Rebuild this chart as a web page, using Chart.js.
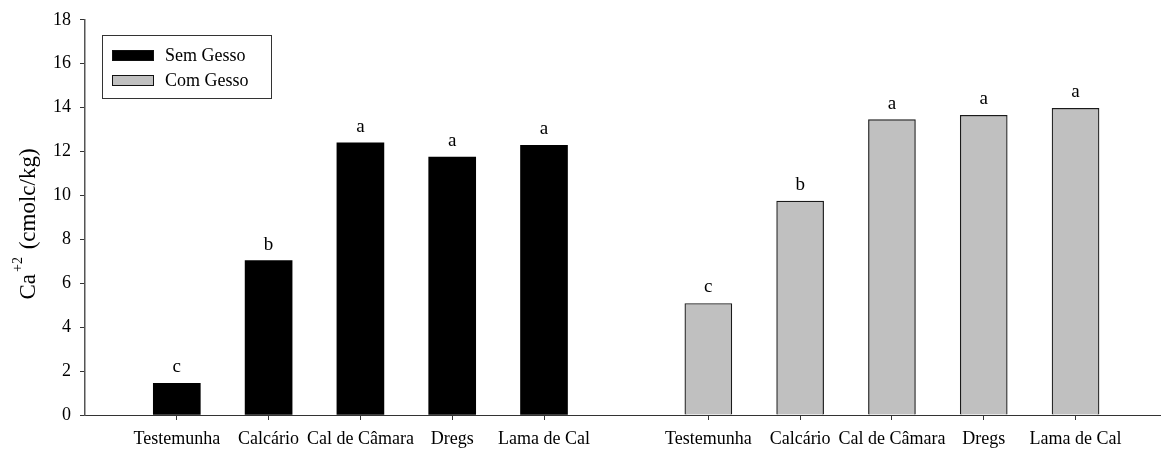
<!DOCTYPE html>
<html>
<head>
<meta charset="utf-8">
<script src="https://cdn.jsdelivr.net/npm/chart.js@4"></script>
<style>
  body { margin: 0; background: #fff; }
  #wrap { width: 1163px; height: 452px; }
</style>
</head>
<body>
<div id="wrap"><canvas id="grafico" width="1163" height="452"></canvas></div>
<script>
// tratamentos e valores de Ca+2 (cmolc/kg)
const categories = ['Testemunha', 'Calcário', 'Cal de Câmara', 'Dregs', 'Lama de Cal'];
const semGesso = [1.44, 7.03, 12.40, 11.75, 12.28];
const comGesso = [5.08, 9.74, 13.45, 13.65, 13.97];
const semLetras = ['c', 'b', 'a', 'a', 'a'];
const comLetras = ['c', 'b', 'a', 'a', 'a'];
const seriesNames = ['Sem Gesso', 'Com Gesso'];

// posição dos grupos no eixo x (unidade = espaço entre barras)
const offsetGrupo2 = 5.79;
const posSem = categories.map((c, i) => i + 1);
const posCom = categories.map((c, i) => i + 1 + offsetGrupo2);
const tickPos = posSem.concat(posCom);
const tickLabels = categories.concat(categories);

const serif = 'Liberation Serif, Times New Roman, serif';

// letras sobre as barras
const letrasPlugin = {
    id: 'letras',
    afterDatasetsDraw(chart) {
        const ctx = chart.ctx;
        const letras = [semLetras, comLetras];
        ctx.save();
        ctx.fillStyle = '#000';
        ctx.font = '19px ' + serif;
        ctx.textAlign = 'center';
        ctx.textBaseline = 'middle';
        chart.data.datasets.forEach((ds, d) => {
            chart.getDatasetMeta(d).data.forEach((bar, i) => {
                ctx.fillText(letras[d][i], bar.x, bar.y - 16);
            });
        });
        ctx.restore();
    }
};

// legenda com moldura e título do eixo y com sobrescrito
const extrasPlugin = {
    id: 'extras',
    afterDraw(chart) {
        const ctx = chart.ctx;
        ctx.save();
        // legenda
        ctx.strokeStyle = '#333';
        ctx.lineWidth = 1;
        ctx.strokeRect(102.5, 35.5, 169, 63);
        ctx.font = '18px ' + serif;
        ctx.textBaseline = 'middle';
        ctx.textAlign = 'left';
        const rows = [55, 80];
        chart.data.datasets.forEach((ds, d) => {
            const y = rows[d];
            ctx.fillStyle = ds.backgroundColor;
            ctx.fillRect(112, y - 5, 42, 11);
            ctx.strokeStyle = '#111';
            ctx.strokeRect(112.5, y - 4.5, 41, 10);
            ctx.fillStyle = '#000';
            ctx.fillText(ds.label, 165, y + 1);
        });

        // título eixo y
        ctx.translate(29, 224);
        ctx.rotate(-Math.PI / 2);
        ctx.fillStyle = '#000';
        ctx.textBaseline = 'middle';
        const big = '23px ' + serif;
        const small = '14px ' + serif;
        ctx.font = big;
        const w1 = ctx.measureText('Ca').width;
        const w3 = ctx.measureText(' (cmolc/kg)').width;
        ctx.font = small;
        const w2 = ctx.measureText('+2').width + 4;
        let x = -(w1 + w2 + w3) / 2;
        ctx.font = big;
        ctx.fillText('Ca', x, 0);
        ctx.font = small;
        ctx.fillText('+2', x + w1 + 2, -11);
        ctx.font = big;
        ctx.fillText(' (cmolc/kg)', x + w1 + w2, 0);
        ctx.restore();
    }
};

new Chart(document.getElementById('grafico'), {
    type: 'bar',
    data: {
        datasets: [{
            label: seriesNames[0],
            data: semGesso.map((v, i) => ({ x: posSem[i], y: v })),
            backgroundColor: '#000000',
            borderColor: '#000000',
            borderWidth: 0,
            barThickness: 47,
            grouped: false
        }, {
            label: seriesNames[1],
            data: comGesso.map((v, i) => ({ x: posCom[i], y: v })),
            backgroundColor: '#c0c0c0',
            borderColor: '#1a1a1a',
            borderWidth: 1.2,
            barThickness: 47,
            grouped: false
        }]
    },
    options: {
        responsive: false,
        animation: false,
        layout: { padding: { top: 19, right: 3, left: 0, bottom: 0 } },
        plugins: {
            legend: { display: false },
            tooltip: { enabled: false }
        },
        scales: {
            x: {
                type: 'linear',
                min: 0,
                max: 11.71,
                offset: false,
                afterBuildTicks(scale) {
                    scale.ticks = tickPos.map(v => ({ value: v }));
                },
                afterFit(scale) { scale.height = 37; },
                grid: {
                    offset: false,
                    drawOnChartArea: false,
                    drawTicks: true,
                    tickLength: 5,
                    color: '#333'
                },
                border: { display: true, color: '#333', width: 1 },
                ticks: {
                    autoSkip: false,
                    maxRotation: 0,
                    padding: 8,
                    color: '#000',
                    font: { family: serif, size: 18 },
                    callback(value) {
                        const k = tickPos.indexOf(value);
                        return k >= 0 ? tickLabels[k] : '';
                    }
                }
            },
            y: {
                min: 0,
                max: 18,
                afterFit(scale) { scale.width = 85; },
                grid: {
                    drawOnChartArea: false,
                    drawTicks: true,
                    tickLength: 5,
                    color: '#333'
                },
                border: { display: true, color: '#555', width: 1.5 },
                ticks: {
                    stepSize: 2,
                    padding: 9,
                    color: '#000',
                    font: { family: serif, size: 18 }
                }
            }
        }
    },
    plugins: [letrasPlugin, extrasPlugin]
});
</script>
</body>
</html>
